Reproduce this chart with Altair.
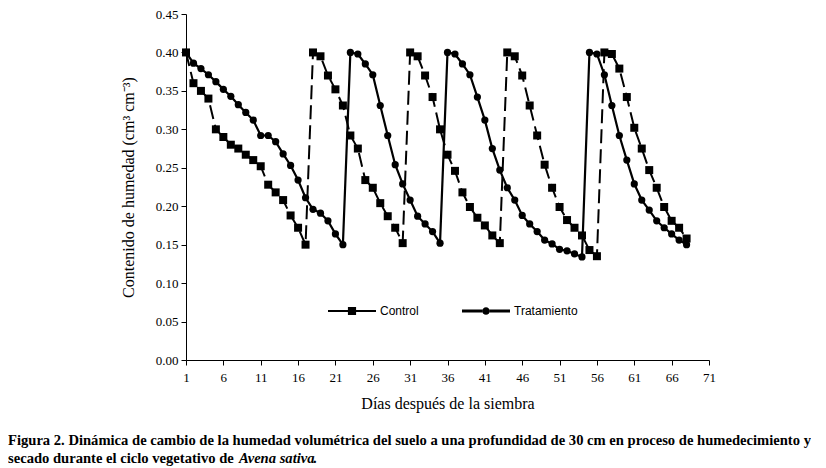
import altair as alt
import pandas as pd

days = list(range(1, 69))

control = [0.40, 0.36, 0.35, 0.34, 0.30, 0.29, 0.28, 0.275, 0.267, 0.26,
           0.252, 0.228, 0.218, 0.208, 0.188, 0.172, 0.15,
           0.40, 0.395, 0.37, 0.352, 0.331, 0.292, 0.275, 0.234, 0.224,
           0.204, 0.187, 0.172, 0.152,
           0.40, 0.395, 0.37, 0.342, 0.30, 0.267, 0.246, 0.218, 0.199,
           0.185, 0.175, 0.162, 0.152,
           0.40, 0.395, 0.37, 0.331, 0.292, 0.254, 0.224, 0.199, 0.182,
           0.172, 0.162, 0.143, 0.135,
           0.40, 0.398, 0.379, 0.342, 0.302, 0.275, 0.247, 0.224, 0.199,
           0.181, 0.172, 0.158]

tratamiento = [0.40, 0.386, 0.379, 0.371, 0.362, 0.352, 0.343, 0.332, 0.322,
               0.312, 0.292, 0.292, 0.284, 0.268, 0.253, 0.234, 0.211, 0.196,
               0.191, 0.181, 0.164, 0.15,
               0.40, 0.398, 0.385, 0.371, 0.331, 0.292, 0.254, 0.229, 0.208,
               0.187, 0.177, 0.167, 0.152,
               0.40, 0.398, 0.385, 0.371, 0.342, 0.312, 0.275, 0.247, 0.224,
               0.208, 0.188, 0.177, 0.167, 0.156, 0.151, 0.144, 0.142, 0.138,
               0.134,
               0.40, 0.398, 0.371, 0.331, 0.292, 0.26, 0.229, 0.208, 0.195,
               0.181, 0.172, 0.164, 0.156, 0.15]

series_names = ["Control", "Tratamiento"]
x_ticks = [1, 6, 11, 16, 21, 26, 31, 36, 41, 46, 51, 56, 61, 66, 71]
y_ticks = [0.0, 0.05, 0.10, 0.15, 0.20, 0.25, 0.30, 0.35, 0.40, 0.45]

caption_line1 = ["Figura 2. Dinámica de cambio de la humedad volumétrica del suelo a una profundidad de 30 cm en proceso de humedecimiento y"]
caption_line2a = ["secado durante el ciclo vegetativo de"]
caption_line2b = ["Avena sativa"]
caption_line2c = ["."]

x_title = "Días después de la siembra"
y_title = "Contenido de humedad (cm³ cm⁻³)"

df_c = pd.DataFrame({"day": days, "value": control, "series": series_names[0]})
df_t = pd.DataFrame({"day": days, "value": tratamiento, "series": series_names[1]})
df_all = pd.concat([df_c, df_t], ignore_index=True)

W, H = 523, 346

xenc = alt.X("day:Q", scale=alt.Scale(domain=[1, 71], nice=False, zero=False),
             axis=alt.Axis(values=x_ticks, tickCount=30, format="d", title=x_title, grid=False,
                           labelFlush=False, labelOverlap=False))
yenc = alt.Y("value:Q", scale=alt.Scale(domain=[0, 0.45], nice=False),
             axis=alt.Axis(values=y_ticks, tickCount=30, format=".2f", title=y_title, grid=False,
                           labelOverlap=False))

line_c = alt.Chart(df_c).mark_line(color="black", strokeWidth=2, strokeDash=[14, 6]).encode(x=xenc, y=yenc)
pts_c = alt.Chart(df_c).mark_point(shape="square", filled=True, color="black", size=64, opacity=1).encode(x="day:Q", y="value:Q")
line_t = alt.Chart(df_t).mark_line(color="black", strokeWidth=2.2).encode(x="day:Q", y="value:Q")
pts_t = alt.Chart(df_t).mark_point(shape="circle", filled=True, color="black", size=52, opacity=1).encode(x="day:Q", y="value:Q")

path_c = ("M-1,-0.042H-0.17V0.042H-1Z M0.17,-0.042H1V0.042H0.17Z "
          "M-0.17,-0.17H0.17V0.17H-0.17Z")
path_t = ("M-1,-0.0625H-0.16V0.0625H-1Z M0.16,-0.0625H1V0.0625H0.16Z "
          "M0.16,0A0.16,0.16 0 1,1 -0.16,0A0.16,0.16 0 1,1 0.16,0Z")

legend_layer = alt.Chart(df_all).mark_point(filled=True, color="black", opacity=0).encode(
    x="day:Q", y="value:Q",
    shape=alt.Shape("series:N",
                    scale=alt.Scale(domain=series_names, range=[path_c, path_t]),
                    legend=alt.Legend(orient="none", legendX=142, legendY=273,
                                      direction="horizontal", title=None,
                                      symbolSize=2304, symbolOpacity=1,
                                      symbolFillColor="black", symbolStrokeWidth=0,
                                      labelFont="Liberation Sans", labelFontSize=12,
                                      labelColor="black", labelOffset=4,
                                      columnPadding=43)),
)

CAP_FS = 14.6

def cap(text_list, xpos, ypos, italic=False):
    d = pd.DataFrame({"t": text_list})
    return alt.Chart(d).mark_text(
        align="left", baseline="middle", font="Liberation Serif", fontSize=CAP_FS,
        fontWeight="bold", fontStyle="italic" if italic else "normal", color="black"
    ).encode(x=alt.value(xpos), y=alt.value(ypos), text="t:N")

cap1 = cap(caption_line1, -178, 427)
cap2a = cap(caption_line2a, -178, 445)
cap2b = cap(caption_line2b, 53, 445, italic=True)
cap2c = cap(caption_line2c, 127, 445)

chart = alt.layer(line_c, pts_c, line_t, pts_t, legend_layer, cap1, cap2a, cap2b, cap2c).resolve_scale(
    shape="independent"
).properties(
    width=W, height=H, padding={"left": 0, "top": 0, "right": 0, "bottom": 0}
).configure_view(stroke=None).configure_axis(
    domainColor="black", tickColor="black", labelColor="black", titleColor="black",
    labelFont="Liberation Serif", labelFontSize=13, titleFont="Liberation Serif",
    titleFontSize=16, titleFontWeight="normal", tickSize=5, domainWidth=1, tickWidth=1
).configure_axisX(labelPadding=6, titlePadding=11).configure_axisY(labelPadding=3, titlePadding=19)

chart.save("out.html", embed_options={"renderer": "svg", "actions": False})
